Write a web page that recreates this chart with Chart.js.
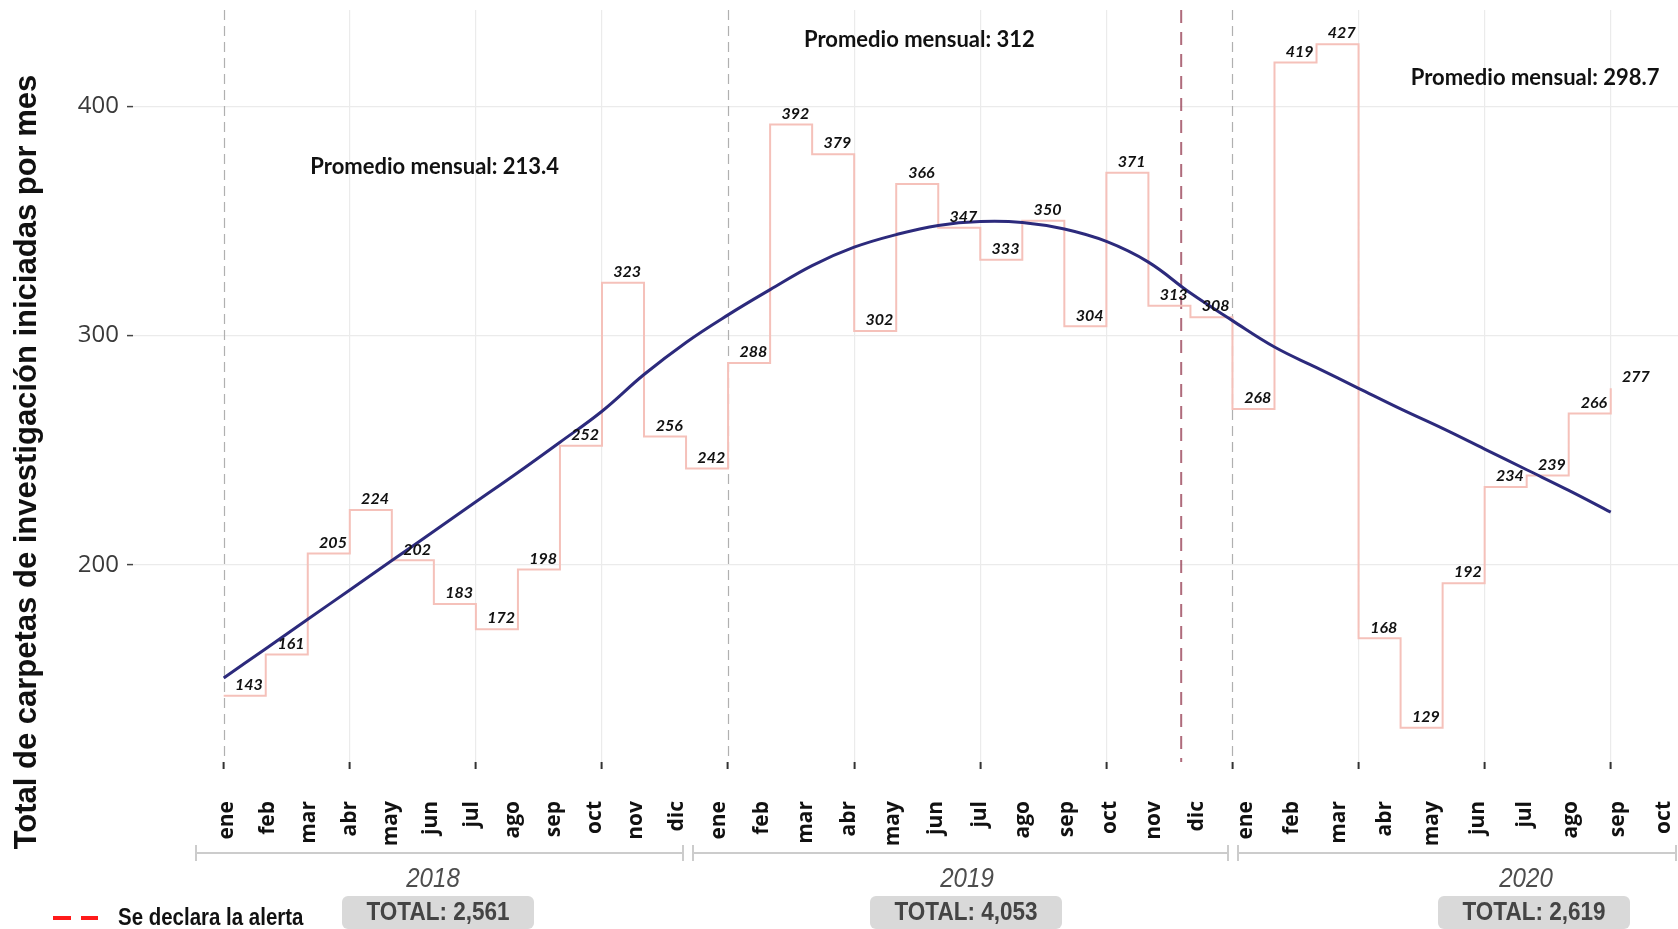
<!DOCTYPE html>
<html lang="es">
<head>
<meta charset="utf-8">
<title>Carpetas de investigación iniciadas por mes</title>
<script src="https://cdn.jsdelivr.net/npm/chart.js@4.4.1/dist/chart.umd.min.js"></script>
<style>
  html, body { margin: 0; padding: 0; background: #fff; }
  #wrap { width: 1678px; height: 929px; }
</style>
</head>
<body>
<div id="wrap"><canvas id="chart" width="1678" height="929"></canvas></div>
<script>
// Months and years
const meses = ['ene', 'feb', 'mar', 'abr', 'may', 'jun', 'jul', 'ago', 'sep', 'oct', 'nov', 'dic'];
const anios = ['2018', '2019', '2020'];
const mesesPorAnio = [12, 12, 10];

// Carpetas iniciadas por mes, ene 2018 - oct 2020
const carpetas = [
  143, 161, 205, 224, 202, 183, 172, 198, 252, 323, 256, 242,
  288, 392, 379, 302, 366, 347, 333, 350, 304, 371, 313, 308,
  268, 419, 427, 168, 129, 192, 234, 239, 266, 277
];

// Trend curve
const tendencia = [
  150.7, 163.5, 176.3, 189.1, 201.9, 214.7, 227.5, 240.3, 253.5, 267, 283, 297,
  309, 320, 330.5, 338.5, 344, 348, 349.7, 349.3, 346.4, 341, 332, 318.5,
  306.5, 295, 286, 277, 268, 259.5, 250.5, 241.5, 232.5, 223
];

const promedios = ['213.4', '312', '298.7'];
const yTicks = [200, 300, 400];
const xTicks = [0, 3, 6, 9, 12, 15, 18, 21, 24, 27, 30, 33];
const alertaMes = 22.78; // month index where the alert is declared

// Layout (not data): where the notes and the footer go
const notas = [{ x: 5.02, y: 373.5 }, { x: 16.55, y: 429 }, { x: 31.2, y: 412.3 }];
const pie = [
  { start: 227, step: 40.9, bracket: [196, 683], year: 433, box: [342, 534] },
  { start: 719, step: 43.5, bracket: [693, 1228], year: 967, box: [870, 1062] },
  { start: 1246, step: 46.5, bracket: [1238, 1676], year: 1526, box: [1438, 1630] }
];

// Totals per year from the monthly values
const totales = [];
let k = 0;
mesesPorAnio.forEach(n => {
  totales.push(carpetas.slice(k, k + n).reduce((a, b) => a + b, 0));
  k += n;
});

// narrow text: regular font squeezed horizontally
function textoAngosto(ctx, txt, x, y, font, sx) {
  ctx.save();
  ctx.font = font;
  ctx.translate(x, y);
  ctx.scale(sx, 1);
  ctx.fillText(txt, 0, 0);
  ctx.restore();
}

// Dashed year lines and the alert line
const lineasVerticales = {
  id: 'lineasVerticales',
  beforeDatasetsDraw(chart) {
    const { ctx, chartArea: a, scales: { x } } = chart;
    ctx.save();
    ctx.strokeStyle = '#b0b0b0';
    ctx.lineWidth = 1.2;
    ctx.setLineDash([10, 6]);
    let idx = 0;
    mesesPorAnio.forEach(n => {
      const px = Math.round(x.getPixelForValue(idx)) + 0.5;
      ctx.beginPath();
      ctx.moveTo(px, a.top);
      ctx.lineTo(px, a.bottom);
      ctx.stroke();
      idx += n;
    });
    const pa = x.getPixelForValue(alertaMes);
    ctx.strokeStyle = 'rgba(155, 70, 90, 0.8)';
    ctx.lineWidth = 2;
    ctx.setLineDash([13, 9]);
    ctx.beginPath();
    ctx.moveTo(pa, a.top);
    ctx.lineTo(pa, a.bottom);
    ctx.stroke();
    ctx.restore();
  }
};

// Value labels and the monthly averages
const etiquetas = {
  id: 'etiquetas',
  afterDatasetsDraw(chart) {
    const { ctx, scales: { x, y } } = chart;
    ctx.save();
    ctx.fillStyle = '#111';
    ctx.font = 'italic bold 16px Lato, "Open Sans", sans-serif';
    ctx.textAlign = 'center';
    ctx.textBaseline = 'bottom';
    carpetas.forEach((v, i) => {
      ctx.fillText(String(v), x.getPixelForValue(i + 0.6), y.getPixelForValue(v) - 3);
    });
    ctx.font = 'bold 22px Lato, "Open Sans", sans-serif';
    ctx.textBaseline = 'middle';
    promedios.forEach((p, i) => {
      ctx.fillText('Promedio mensual: ' + p, x.getPixelForValue(notas[i].x), y.getPixelForValue(notas[i].y));
    });
    ctx.restore();
  }
};

// Month labels, year brackets, totals, legend and the y title
const pieDeGrafica = {
  id: 'pieDeGrafica',
  afterDraw(chart) {
    const { ctx } = chart;
    ctx.save();
    anios.forEach((anio, j) => {
      const p = pie[j];
      // month labels
      ctx.fillStyle = '#111';
      ctx.font = 'bold 21px "Open Sans", sans-serif';
      ctx.textAlign = 'right';
      ctx.textBaseline = 'middle';
      for (let m = 0; m < mesesPorAnio[j]; m++) {
        ctx.save();
        ctx.translate(p.start + m * p.step, 801);
        ctx.rotate(-Math.PI / 2);
        ctx.fillText(meses[m], 0, 0);
        ctx.restore();
      }
      // bracket
      ctx.strokeStyle = '#cccccc';
      ctx.lineWidth = 2;
      ctx.beginPath();
      ctx.moveTo(p.bracket[0], 853);
      ctx.lineTo(p.bracket[1], 853);
      ctx.moveTo(p.bracket[0], 845);
      ctx.lineTo(p.bracket[0], 861);
      ctx.moveTo(p.bracket[1], 845);
      ctx.lineTo(p.bracket[1], 861);
      ctx.stroke();
      // year
      ctx.fillStyle = '#4d4d4d';
      ctx.textAlign = 'center';
      textoAngosto(ctx, anio, p.year, 879, 'italic 28px "Liberation Sans", Arial, sans-serif', 0.86);
      // total box
      ctx.fillStyle = '#d9d9d9';
      ctx.beginPath();
      ctx.roundRect(p.box[0], 896, p.box[1] - p.box[0], 33, 6);
      ctx.fill();
      ctx.fillStyle = '#444';
      textoAngosto(ctx, 'TOTAL: ' + totales[j].toLocaleString('en-US'), (p.box[0] + p.box[1]) / 2, 913,
        'bold 25px "Liberation Sans", Arial, sans-serif', 0.9);
    });
    // legend
    ctx.strokeStyle = '#ff1a1a';
    ctx.lineWidth = 4;
    ctx.beginPath();
    ctx.moveTo(53, 918); ctx.lineTo(71, 918);
    ctx.moveTo(81, 918); ctx.lineTo(98, 918);
    ctx.stroke();
    ctx.fillStyle = '#111';
    ctx.textAlign = 'left';
    textoAngosto(ctx, 'Se declara la alerta', 118, 919, 'bold 23px "Liberation Sans", Arial, sans-serif', 0.89);
    // y title
    ctx.translate(27, 462);
    ctx.rotate(-Math.PI / 2);
    ctx.textAlign = 'center';
    ctx.font = 'bold 31px "Liberation Sans", Arial, sans-serif';
    ctx.fillText('Total de carpetas de investigación iniciadas por mes', 0, 0);
    ctx.restore();
  }
};

new Chart(document.getElementById('chart'), {
  type: 'line',
  data: {
    datasets: [
      {
        label: 'Tendencia',
        data: tendencia.map((v, i) => ({ x: i, y: v })),
        borderColor: '#2c2a7c',
        borderWidth: 3,
        pointRadius: 0,
        tension: 0.4,
        order: 0
      },
      {
        label: 'Carpetas',
        data: carpetas.map((v, i) => ({ x: i, y: v })),
        borderColor: '#f5c1ba',
        borderWidth: 2,
        pointRadius: 0,
        stepped: 'before',
        order: 1
      }
    ]
  },
  options: {
    responsive: false,
    animation: false,
    events: [],
    layout: { padding: { top: 10, left: 0, right: 0, bottom: 0 } },
    plugins: {
      legend: { display: false },
      tooltip: { enabled: false }
    },
    scales: {
      x: {
        type: 'linear',
        min: -2.158,
        max: 34.6,
        afterBuildTicks: (scale) => { scale.ticks = xTicks.map(v => ({ value: v })); },
        afterFit: (scale) => {
          scale.height = 167;
          scale.paddingLeft = 0;
          scale.paddingRight = 0;
        },
        ticks: { display: false },
        border: { display: false },
        grid: {
          color: (c) => (c.tick && c.tick.value % 12 === 0 ? 'rgba(0,0,0,0)' : '#ebebeb'),
          lineWidth: 1.2,
          tickColor: '#333',
          tickLength: 7,
          tickWidth: 2
        }
      },
      y: {
        min: 114.1,
        max: 441.9,
        afterBuildTicks: (scale) => { scale.ticks = yTicks.map(v => ({ value: v })); },
        afterFit: (scale) => {
          scale.width = 133;
          scale.paddingTop = 0;
          scale.paddingBottom = 0;
        },
        ticks: {
          color: '#3a3a3a',
          padding: 8,
          font: { family: '"Open Sans", sans-serif', size: 24 }
        },
        border: { display: false },
        grid: {
          color: '#ebebeb',
          lineWidth: 1.2,
          tickColor: '#444',
          tickLength: 6,
          tickWidth: 1.5
        }
      }
    }
  },
  plugins: [lineasVerticales, etiquetas, pieDeGrafica]
});
</script>
</body>
</html>
